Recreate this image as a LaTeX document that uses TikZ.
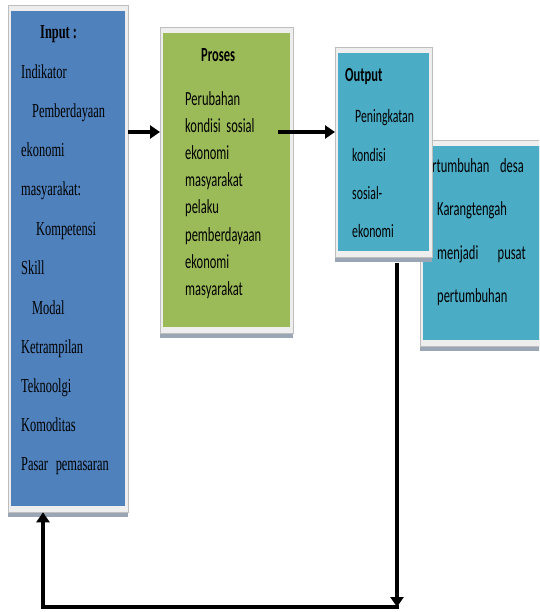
\documentclass[tikz,border=0pt]{standalone}
\usepackage{fontspec}
\setmainfont{Liberation Serif}
\newfontfamily\calfont{Carlito}
\usetikzlibrary{arrows.meta,shadows}
\definecolor{inblue}{HTML}{4F81BD}
\definecolor{prgreen}{HTML}{9BBB59}
\definecolor{outcyan}{HTML}{4BACC6}
\definecolor{framec}{HTML}{EEEEEE}
\definecolor{shadowc}{HTML}{9AA6B6}
\newcommand{\tl}[1]{\scalebox{1}[1.6]{#1}}
\tikzset{
  panel/.style={draw=framec!80!black, line width=0.3pt, fill=framec, inner sep=0pt,
    anchor=north west, general shadow={fill=shadowc, shadow yshift=-5pt},
    path picture={\fill[#1] ([xshift=3pt,yshift=-6pt]path picture bounding box.north west)
      rectangle ([xshift=-3pt,yshift=6pt]path picture bounding box.south east);}},
  ttxt/.style={anchor=base west, inner sep=0pt, font=\fontsize{12.4}{14}\selectfont},
  ctxt/.style={anchor=base west, inner sep=0pt, font=\calfont\fontsize{12.5}{14}\selectfont},
  otxt/.style={anchor=base west, inner sep=0pt, font=\calfont\fontsize{11.8}{14}\selectfont},
  arr/.style={line width=4pt, -{Triangle[length=10pt,width=13pt]}},
}
\begin{document}
\begin{tikzpicture}[x=1pt,y=-1pt]
\useasboundingbox (0,0) rectangle (539,612);
\clip (0,0) rectangle (539,612);
% panels
\node[panel=inblue, minimum width=120pt, minimum height=507pt] (inp) at (8,5) {};
\node[panel=prgreen, minimum width=133pt, minimum height=306pt] (proc) at (160,27) {};
\node[panel=outcyan, minimum width=130pt, minimum height=206pt] (rbox) at (420,140) {};
% right box text
\node[ctxt] (r1a) at (432,173) {\tl{rtumbuhan}};
\node[ctxt, anchor=base east] (r1b) at (524,173) {\tl{desa}};
\node[ctxt] (r2) at (437,215) {\tl{Karangtengah}};
\node[ctxt] (r3a) at (437,259) {\tl{menjadi}};
\node[ctxt, anchor=base east] (r3b) at (526,259) {\tl{pusat}};
\node[ctxt] (r4) at (437,302) {\tl{pertumbuhan}};
% output panel
\node[panel=outcyan, minimum width=97pt, minimum height=210pt] (outp) at (335,47) {};
\node[otxt, font=\calfont\bfseries\fontsize{12.5}{14}\selectfont] (o0) at (345,82) {\tl{Output}};
\node[otxt] (o1) at (355,123) {\tl{Peningkatan}};
\node[otxt] (o2) at (352,162) {\tl{kondisi}};
\node[otxt] (o3) at (352,200) {\tl{sosial-}};
\node[otxt] (o4) at (352,237) {\tl{ekonomi}};
% input text
\node[ttxt, font=\bfseries\fontsize{12.4}{14}\selectfont] (i0) at (40,39) {\tl{Input :}};
\node[ttxt] (i1) at (21,79) {\tl{Indikator}};
\node[ttxt] (i2) at (32,118) {\tl{Pemberdayaan}};
\node[ttxt] (i3) at (21,157) {\tl{ekonomi}};
\node[ttxt] (i4) at (21,196) {\tl{masyarakat:}};
\node[ttxt] (i5) at (36,235) {\tl{Kompetensi}};
\node[ttxt] (i6) at (21,274) {\tl{Skill}};
\node[ttxt] (i7) at (32,314) {\tl{Modal}};
\node[ttxt] (i8) at (21,353) {\tl{Ketrampilan}};
\node[ttxt] (i9) at (21,392) {\tl{Teknoolgi}};
\node[ttxt] (i10) at (21,431) {\tl{Komoditas}};
\node[ttxt] (i11a) at (21,470) {\tl{Pasar}};
\node[ttxt, anchor=base east] (i11b) at (109,470) {\tl{pemasaran}};
% proses text
\node[ctxt, font=\calfont\bfseries\fontsize{12.5}{14}\selectfont] (p0) at (201,62) {\tl{Proses}};
\node[ctxt] (p1) at (185,106) {\tl{Perubahan}};
\node[ctxt] (p2) at (185,133) {\tl{kondisi\ \ sosial}};
\node[ctxt] (p3) at (185,160) {\tl{ekonomi}};
\node[ctxt] (p4) at (185,187) {\tl{masyarakat}};
\node[ctxt] (p5) at (185,214) {\tl{pelaku}};
\node[ctxt] (p6) at (185,241) {\tl{pemberdayaan}};
\node[ctxt] (p7) at (185,268) {\tl{ekonomi}};
\node[ctxt] (p8) at (185,295) {\tl{masyarakat}};
% connectors
\coordinate (a2s) at (278,132);
\coordinate (c1) at (397,607);
\coordinate (c2) at (43,607);
\draw[arr] (inp.east |- a2s) -- (proc.west |- a2s);
\draw[arr] (a2s) -- (outp.west |- a2s);
\draw[arr, shorten <=6pt] (outp.south -| c1) -- (c1);
\draw[arr, line join=miter, shorten <=-2pt] (c1) -- (c2) -- (inp.south -| c2);
\end{tikzpicture}
\end{document}
